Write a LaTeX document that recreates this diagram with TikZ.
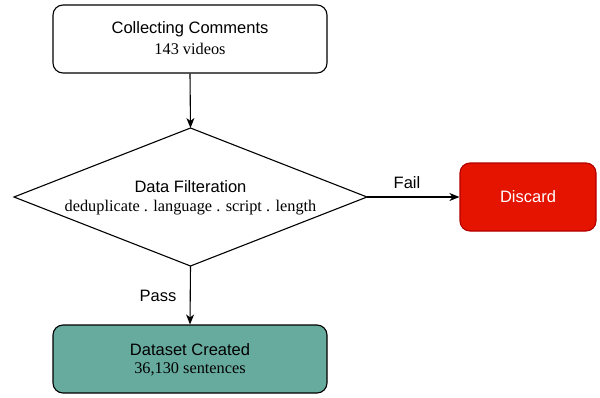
\documentclass[tikz,border=0pt]{standalone}
\usepackage{fontspec}
\setmainfont{Liberation Serif}
\setsansfont{Liberation Sans}
\usetikzlibrary{shapes.geometric,arrows.meta}
\definecolor{discardred}{HTML}{E51400}
\definecolor{discardborder}{HTML}{B20000}
\definecolor{tealfill}{HTML}{67AB9F}
\begin{document}
\begin{tikzpicture}[x=1pt,y=-1pt,
  boxstyle/.style={draw=black, rounded corners=10pt, line width=1.1pt, minimum width=274pt, minimum height=68pt, align=center, inner sep=0pt},
  conn/.style={draw=black, line width=1.1pt, -{Stealth[length=10pt,width=8pt,inset=3pt]}},
  lbl/.style={font=\fontsize{16.5}{18}\sffamily},
  sub/.style={font=\fontsize{16.3}{18}\selectfont}
]
\useasboundingbox (0,0) rectangle (600,397);
\node[boxstyle, fill=white] (collect) at (190,39) {};
\node[lbl] at (190,29) {Collecting Comments};
\node[sub] at (190,49) {143 videos};
\coordinate (dtop) at (190.5,128);
\coordinate (dright) at (367,197);
\coordinate (dbot) at (190.5,266);
\coordinate (dleft) at (14,197);
\draw[line width=1.1pt, fill=white] (dtop) -- (dright) -- (dbot) -- (dleft) -- cycle;
\node (filter) at (190.5,197) {};
\node[lbl] at (190.5,187) {Data Filteration};
\node[sub] at (190.5,208) {deduplicate . language . script . length};
\node[draw=discardborder, fill=discardred, rounded corners=10pt, line width=1.1pt, minimum width=136pt, minimum height=68pt, inner sep=0pt, text=white, lbl] (discard) at (528,197) {Discard};
\node[boxstyle, fill=tealfill] (dataset) at (190,359) {};
\node[lbl] at (190,350) {Dataset Created};
\node[sub] at (190,369) {36,130 sentences};
\draw[conn] (collect.south) -- (dtop);
\draw[conn] (dright) -- (discard.west);
\draw[conn] (dbot) -- (dataset.north);
\node[lbl] at (407,183) {Fail};
\node[lbl] at (158,296) {Pass};
\end{tikzpicture}
\end{document}
